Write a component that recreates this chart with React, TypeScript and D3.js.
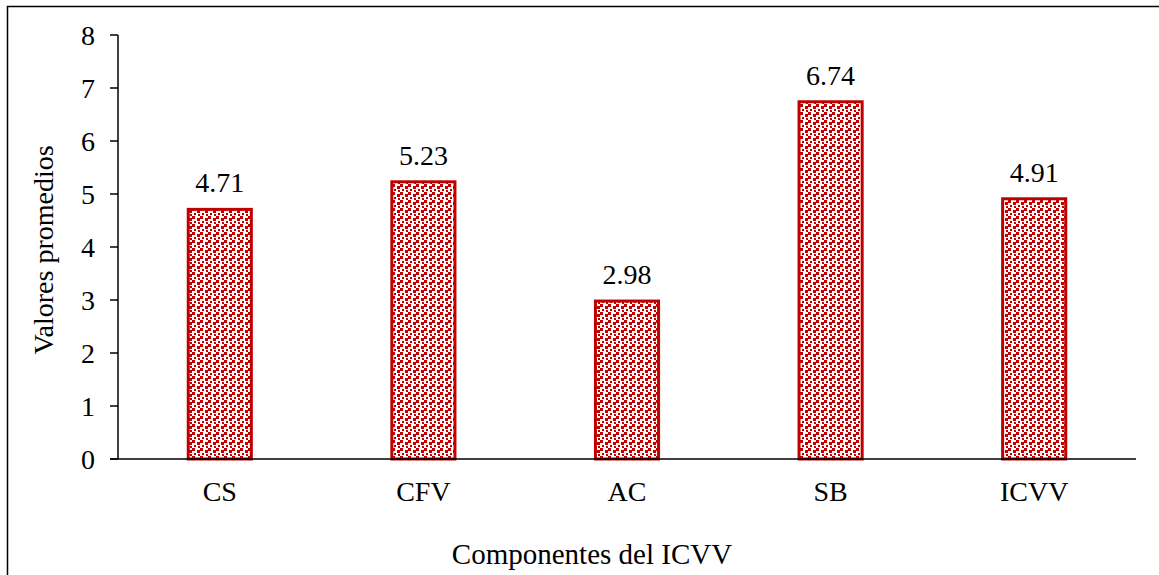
import React from "react";
import * as d3 from "d3";

const categories = ["CS", "CFV", "AC", "SB", "ICVV"];
const values = [4.71, 5.23, 2.98, 6.74, 4.91];
const yTicks = [0, 1, 2, 3, 4, 5, 6, 7, 8];

const W = 1159;
const H = 575;
const left = 118;
const right = 1136;
const top = 35;
const bottom = 459;
const RED = "#C00000";

const dots: [number, number, number][] = [
  [0, 0, 3], [5, 2, 3], [2, 5, 2], [6, 6, 2],
];

export default function App() {
  const x = d3.scaleBand<string>().domain(categories).range([left, right]).paddingInner(0.69).paddingOuter(0.345);
  const y = d3.scaleLinear().domain([0, 8]).range([bottom, top]);
  const font = '"Liberation Serif", "DejaVu Serif", serif';
  const fs = 28;
  return (
    <svg width={W} height={H} style={{ display: "block", position: "absolute", left: 0, top: 0, fontFamily: font }}>
      <defs>
        <pattern id="conf" width={8} height={8} patternUnits="userSpaceOnUse">
          <rect width={8} height={8} fill="#fff" />
          {dots.map(([px, py, s], i) => (
            <rect key={i} x={px} y={py} width={s} height={s} fill={RED} />
          ))}
        </pattern>
      </defs>
      <rect x={0} y={0} width={W} height={H} fill="#fff" />
      <path d={`M7.5,${H + 5} V6.5 H${W + 5}`} fill="none" stroke="#000" strokeWidth={1.5} />
      {categories.map((c, i) => (
        <g key={c}>
          <rect x={x(c)!} y={y(values[i])} width={x.bandwidth()} height={bottom - y(values[i])}
            fill="url(#conf)" stroke={RED} strokeWidth={3} />
          <text x={x(c)! + x.bandwidth() / 2} y={y(values[i]) - 17} textAnchor="middle" fontSize={fs}>
            {values[i].toFixed(2)}
          </text>
          <text x={x(c)! + x.bandwidth() / 2} y={501} textAnchor="middle" fontSize={fs}>{c}</text>
        </g>
      ))}
      <line x1={left} x2={left} y1={top} y2={bottom} stroke="#000" strokeWidth={1.5} />
      <line x1={left - 8} x2={right} y1={bottom} y2={bottom} stroke="#000" strokeWidth={1.5} />
      {yTicks.map((t) => (
        <g key={t}>
          <line x1={left - 8} x2={left} y1={y(t)} y2={y(t)} stroke="#000" strokeWidth={1.5} />
          <text x={95} y={y(t) + 10} textAnchor="end" fontSize={fs}>{t}</text>
        </g>
      ))}
      <text transform={`translate(53,250) rotate(-90)`} textAnchor="middle" fontSize={fs}>
        Valores promedios
      </text>
      <text x={(left + right) / 2 - 35} y={564} textAnchor="middle" fontSize={29}>Componentes del ICVV</text>
    </svg>
  );
}
